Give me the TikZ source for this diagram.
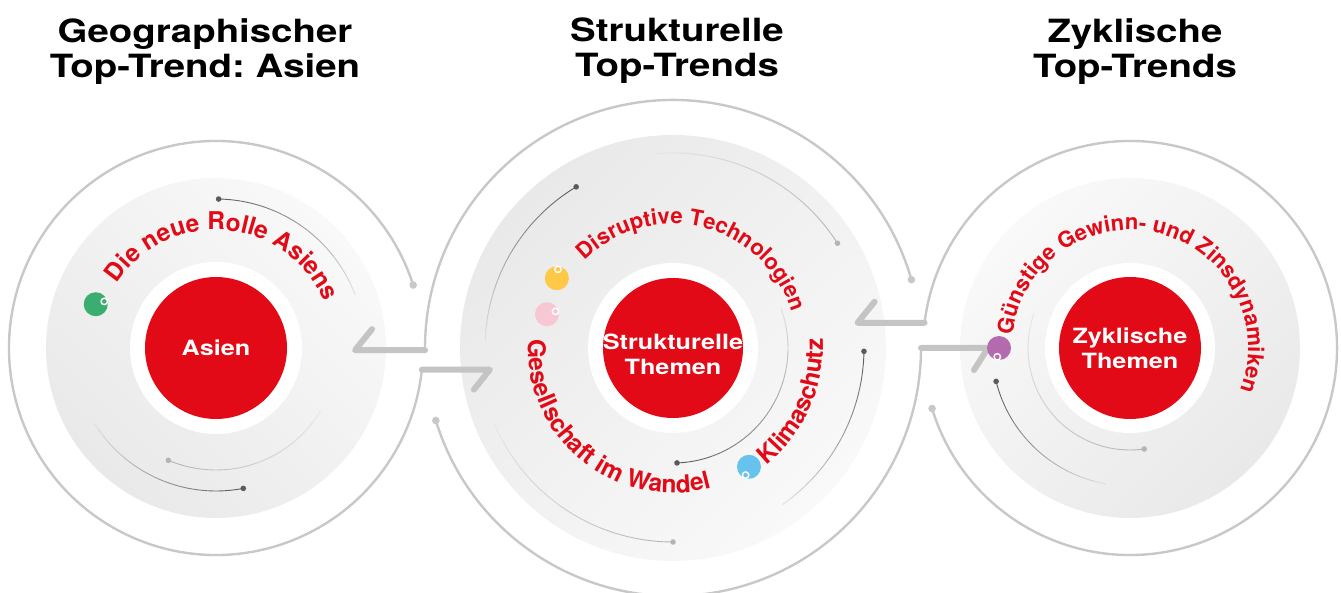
\documentclass[tikz,border=0pt]{standalone}
\usepackage{fontspec}
\setmainfont{TeX Gyre Heros}[FakeStretch=1.2]
\newfontfamily\arcfamily{TeX Gyre Heros}
\usetikzlibrary{calc,decorations.text}
\frenchspacing

\definecolor{themered}{RGB}{226,10,22}
\definecolor{ringgray}{RGB}{200,200,200}
\definecolor{arrowgray}{RGB}{196,196,196}
\definecolor{diskgray}{RGB}{233,233,233}
\definecolor{disklight}{RGB}{249,249,249}
\definecolor{arcdark}{RGB}{90,90,90}
\definecolor{arclight}{RGB}{180,180,180}
\definecolor{dotgreen}{RGB}{58,174,111}
\definecolor{dotyellow}{RGB}{255,200,70}
\definecolor{dotpink}{RGB}{247,199,212}
\definecolor{dotblue}{RGB}{104,194,238}
\definecolor{dotpurple}{RGB}{180,106,174}

\newcommand{\arcfont}{\arcfamily\fontsize{24.5}{25}\selectfont\bfseries}
\newcommand{\arcfontsmall}{\arcfamily\fontsize{22}{22}\selectfont\bfseries}

% thin arc with a dot at its start, fading out towards its end
\newcommand{\fadearc}[5]{%
    \fill[#5] ($(#1)+(#3:#2)$) circle (2.8);
    \foreach \k in {0,...,23} {
        \pgfmathsetmacro{\arcfrom}{#3+(#4-#3)*\k/24}
        \pgfmathsetmacro{\arcto}{#3+(#4-#3)*(\k+1)/24}
        \pgfmathtruncatemacro{\arcmix}{100-4*\k}
        \draw[#5!\arcmix!diskgray, line width=0.9pt] ($(#1)+(\arcfrom:#2)$) arc[start angle=\arcfrom, end angle=\arcto, radius=#2];
    }
}

\begin{document}
\begin{tikzpicture}[x=1pt, y=1pt,
    ring/.style={ringgray, line width=2.4pt},
    flow/.style={arrowgray, line width=6pt, line cap=round, line join=round},
    coretext/.style={text=white, align=center, inner sep=0pt, font=\fontsize{21}{25}\selectfont\bfseries},
    title/.style={anchor=north, align=center, inner sep=0pt, font=\fontsize{32}{35}\selectfont\bfseries},
    curved/.style={decorate, decoration={text along path, text align=center, text color=themered, text={|\arcfont|#1}}},
    curvedsmall/.style={decorate, decoration={text along path, text align=center, text color=themered, text={|\arcfontsmall|#1}}}]
    \useasboundingbox (0,0) rectangle (1341,592);
    \coordinate (asia) at (216,244);
    \coordinate (struct) at (673,244);
    \coordinate (cycl) at (1130,244);

    % grey disks
    \shade[top color=disklight, bottom color=diskgray, shading angle=-45] (asia) circle (170);
    \shade[top color=disklight, bottom color=diskgray, shading angle=-135] (struct) circle (213);
    \shade[top color=disklight, bottom color=diskgray, shading angle=45] (cycl) circle (170);

    % outer rings, each one running into an arrow
    \fill[ringgray] ($(asia)+(17.7:207)$) circle (3.8);
    \draw[ring] ($(asia)+(17.7:207)$) arc[start angle=17.7, end angle=354, radius=207] coordinate (asiaOut);
    \draw[flow] (asiaOut) -- ++(68,0) -- ++(-16,-20);
    \fill[ringgray] ($(struct)+(16:248)$) circle (3.8);
    \draw[ring] ($(struct)+(16:248)$) arc[start angle=16, end angle=180.5, radius=248] coordinate (structOutL);
    \draw[flow] (structOutL) -- ++(-70,0) -- ++(17,21);
    \fill[ringgray] ($(struct)+(197:248)$) circle (3.8);
    \draw[ring] ($(struct)+(197:248)$) arc[start angle=197, end angle=360, radius=248] coordinate (structOutR);
    \draw[flow] (structOutR) -- ++(67,0) -- ++(-14,-22);
    \fill[ringgray] ($(cycl)+(197:207)$) circle (3.8);
    \draw[ring] ($(cycl)+(197:207)$) arc[start angle=197, end angle=533, radius=207] coordinate (cyclOut);
    \draw[flow] (cyclOut) -- ++(-67,0) -- ++(17,21);

    % white gap and red core
    \foreach \c/\r/\k in {asia/86/71, struct/85/70, cycl/85/71} {
        \fill[white] (\c) circle (\r);
        \fill[themered] (\c) circle (\k);
    }
    \node[coretext] (asiaCore) at (asia) {Asien};
    \node[coretext] (structCore) at ($(struct)+(0,-6)$) {Strukturelle\\Themen};
    \node[coretext] (cyclCore) at (cycl) {Zyklische\\Themen};

    % thin arcs inside the disks
    \fadearc{asia}{149}{89}{21}{arcdark}
    \fadearc{asia}{143}{281}{212}{arcdark}
    \fadearc{asia}{122}{247}{329}{arclight}
    \fadearc{struct}{188}{121}{178}{arcdark}
    \fadearc{struct}{195}{32.5}{95}{arclight}
    \fadearc{struct}{115}{272}{380}{arcdark}
    \fadearc{struct}{191}{-1}{-55}{arcdark}
    \fadearc{struct}{194}{270}{203}{arclight}
    \fadearc{cycl}{138}{194}{260}{arcdark}
    \fadearc{cycl}{102}{278}{160}{arclight}

    % labels along the circles
    \path[curved={Die neue Rolle Asiens}] ($(asia)+(175:118)$) arc[start angle=175, end angle=-5, radius=118];
    \path[curvedsmall={Disruptive Technologien}] ($(struct)+(176:124)$) arc[start angle=176, end angle=-24, radius=124];
    \path[curved={Klimaschutz}] ($(struct)+(-71:150)$) arc[start angle=-71, end angle=23, radius=150];
    \path[curved={Gesellschaft im Wandel}] ($(struct)+(160:145)$) arc[start angle=160, end angle=302, radius=145];
    \path[curvedsmall={Günstige Gewinn- und Zinsdynamiken}] ($(cycl)+(200:118)$) arc[start angle=200, end angle=-47, radius=118];

    % coloured bubbles
    \foreach \c/\ang/\rad/\col/\hl in {asia/160/128/dotgreen/18, struct/149/135.5/dotyellow/83,
        struct/165/130.5/dotpink/18, struct/-57.4/141/dotblue/248, cycl/180/131/dotpurple/259} {
        \fill[\col] ($(\c)+(\ang:\rad)$) circle (12);
        \fill[white] ($(\c)+(\ang:\rad)+(\hl:9)$) circle (4);
        \fill[\col] ($(\c)+(\ang:\rad)+(\hl:9)$) circle (2.3);
    }

    % headings
    \node[title] (asiaTitle) at (205,574) {Geographischer\\Top-Trend: Asien};
    \node[title] (structTitle) at (677,574) {Strukturelle\\Top-Trends};
    \node[title] (cyclTitle) at (1135,574) {Zyklische\\Top-Trends};
\end{tikzpicture}
\end{document}
